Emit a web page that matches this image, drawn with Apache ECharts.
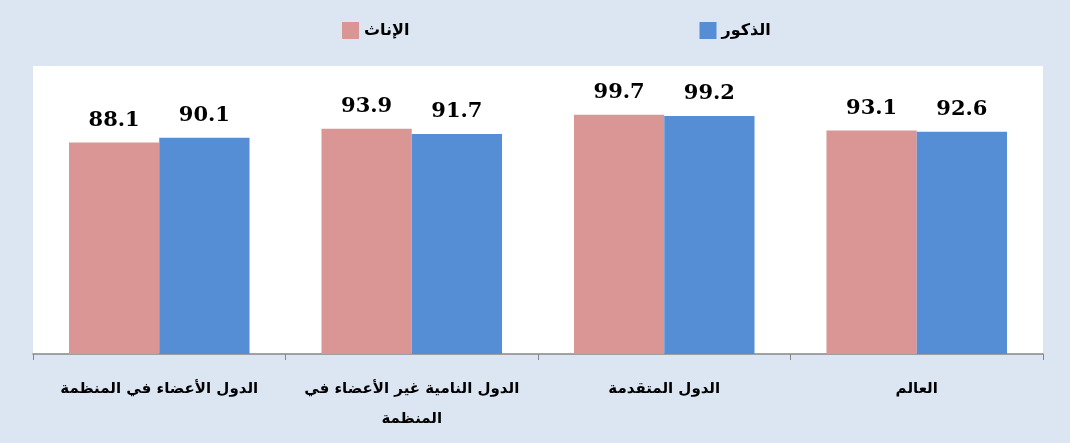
<!DOCTYPE html>
<html>
<head>
<meta charset="utf-8">
<script src="https://cdn.jsdelivr.net/npm/echarts@6/dist/echarts.min.js"></script>
<style>
  html, body { margin: 0; padding: 0; background: #dce6f2; }
  #chart { width: 1070px; height: 443px; }
</style>
</head>
<body>
<div id="chart"></div>
<script>
// 分类（从左到右）
const categories = [
  'الدول الأعضاء في المنظمة',
  'الدول النامية غير الأعضاء في\nالمنظمة',
  'الدول المتقدمة',
  'العالم'
];
const femaleName = 'الإناث';
const maleName = 'الذكور';
const femaleValues = [88.1, 93.9, 99.7, 93.1];
const maleValues = [90.1, 91.7, 99.2, 92.6];

const chart = echarts.init(document.getElementById('chart'));

const labelStyle = {
  show: true,
  position: 'top',
  distance: 12,
  color: '#000',
  fontFamily: 'DejaVu Serif',
  fontWeight: 'bold',
  fontSize: 21,
  formatter: p => p.value.toFixed(1)
};

const option = {
  backgroundColor: '#dce6f2',
  animation: false,
  legend: {
    data: [femaleName, maleName],
    top: 17,
    left: 337,
    icon: 'rect',
    itemWidth: 17,
    itemHeight: 17,
    itemGap: 290,
    textStyle: {
      fontFamily: 'DejaVu Sans',
      fontWeight: 'bold',
      fontSize: 16,
      color: '#000'
    }
  },
  grid: {
    left: 33,
    right: 27,
    top: 66,
    bottom: 89,
    show: true,
    backgroundColor: '#ffffff',
    borderWidth: 0
  },
  xAxis: {
    type: 'category',
    data: categories,
    axisLine: { lineStyle: { color: '#868686', width: 1.5 } },
    axisTick: { show: true, interval: 0, length: 6, lineStyle: { color: '#868686' } },
    axisLabel: {
      interval: 0,
      margin: 20,
      color: '#000',
      fontFamily: 'DejaVu Sans',
      fontWeight: 'bold',
      fontSize: 15,
      lineHeight: 30
    }
  },
  yAxis: {
    type: 'value',
    min: 0,
    max: 120,
    show: false,
    splitLine: { show: false }
  },
  series: [
    {
      name: femaleName,
      type: 'bar',
      data: femaleValues,
      itemStyle: { color: '#d99694' },
      barGap: '0%',
      barCategoryGap: '28.5%',
      label: labelStyle
    },
    {
      name: maleName,
      type: 'bar',
      data: maleValues,
      itemStyle: { color: '#558ed5' },
      barGap: '0%',
      barCategoryGap: '28.5%',
      label: labelStyle
    }
  ]
};

chart.setOption(option);
</script>
</body>
</html>
